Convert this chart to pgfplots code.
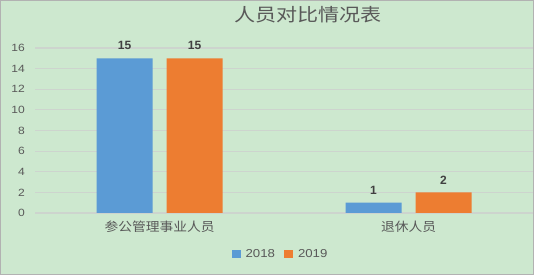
\documentclass[border=0pt]{standalone}
\usepackage{pgfplots}
\pgfplotsset{compat=1.18}
\usepackage{fontspec}
\setmainfont{Liberation Sans}
\newfontfamily\cjkT[FakeStretch=1.17]{Noto Sans CJK SC}
\newfontfamily\cjkL[FakeStretch=1.1]{Noto Sans CJK SC}
\newfontfamily\wide[FakeStretch=1.15]{Liberation Sans}
\definecolor{bg}{RGB}{205,232,207}
\definecolor{sblue}{RGB}{91,155,213}
\definecolor{sorange}{RGB}{237,125,49}
\definecolor{txt}{RGB}{89,89,89}
\definecolor{lbl}{RGB}{64,64,64}
\definecolor{grd}{RGB}{205,212,206}
\begin{document}
\begin{tikzpicture}
\useasboundingbox (0,0) rectangle (534pt,275pt);
\fill[bg] (0,0) rectangle (534pt,275pt);
\draw[gray!60, line width=0.6pt] (0.3pt,0.3pt) rectangle (533.7pt,274.7pt);
\begin{axis}[
  at={(35pt,62pt)}, anchor=south west,
  scale only axis, width=498pt, height=165pt,
  xmin=-0.5, xmax=1.5, ymin=0, ymax=16,
  ytick={0,2,...,16},
  xtick={0,1},
  xticklabels={参公管理事业人员,退休人员},
  ymajorgrids, grid style={grd, line width=1.2pt},
  axis line style={draw=none},
  major tick length=0pt,
  /pgf/number format/assume math mode=true,
  yticklabel style={font=\fontsize{10.5}{12}\selectfont\wide, text=txt, anchor=east, inner sep=0pt, xshift=-10pt},
  xticklabel style={font=\fontsize{12.5}{14}\selectfont\cjkL, text=txt, anchor=north, inner sep=0pt, yshift=-8pt},
  ybar, bar width=56pt,
  nodes near coords,
  every node near coord/.append style={font=\fontsize{12}{14}\selectfont\bfseries, text=lbl, anchor=south, inner sep=0pt, yshift=8pt},
  title={人员对比情况表},
  title style={font=\fontsize{18}{20}\selectfont\cjkT, text=txt, at={(0.548,1.164)}, anchor=center},
  legend style={at={(0.496,-0.248)}, anchor=center, draw=none, fill=none, legend columns=2,
    font=\fontsize{11.5}{14}\selectfont\wide, text=txt,
    /tikz/every odd column/.append style={column sep=0pt},
    /tikz/every even column/.append style={column sep=4pt},
    nodes={inner sep=0pt, inner xsep=5pt}},
  legend image code/.code={\fill[#1] (0pt,-4pt) rectangle (9pt,4pt);},
]
\addplot[fill=sblue, draw=none, bar shift=-35pt] coordinates {(0,15) (1,1)};
\addplot[fill=sorange, draw=none, bar shift=35pt] coordinates {(0,15) (1,2)};
\legend{2018,2019}
\end{axis}
\end{tikzpicture}
\end{document}
